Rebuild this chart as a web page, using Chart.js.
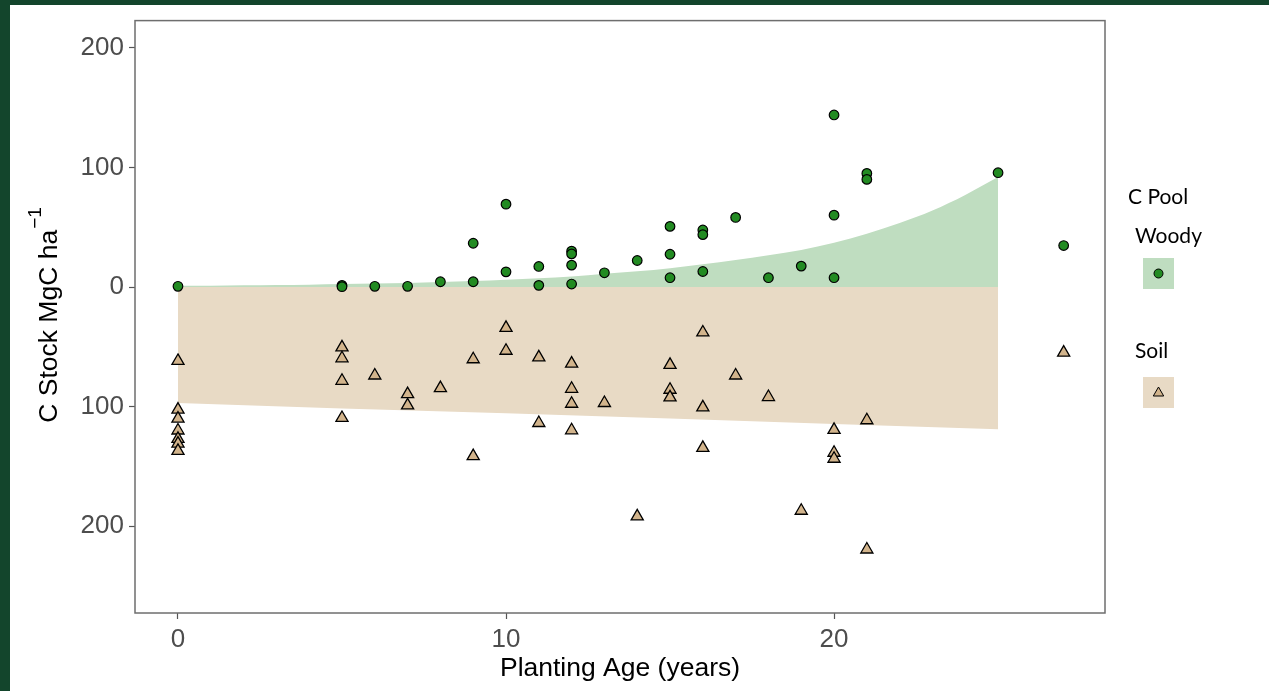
<!DOCTYPE html>
<html>
<head>
<meta charset="utf-8">
<script src="https://cdn.jsdelivr.net/npm/chart.js@4.4.1/dist/chart.umd.min.js"></script>
<style>
  html, body { margin: 0; padding: 0; background: #fff; }
  canvas { display: block; }
</style>
</head>
<body>
<canvas id="stockChart" width="1269" height="691"></canvas>
<script>
// woody carbon observations (MgC/ha) by planting age
const woodyAge = [0, 5, 5, 6, 7, 8, 9, 9, 10, 10, 11, 11, 12, 12, 12, 12, 13, 14, 15, 15, 15, 16, 16, 16, 17, 18, 19, 20, 20, 20, 21, 21, 25, 27];
const woodyStock = [0.6, 1.4, 0.3, 0.6, 0.6, 4.4, 4.4, 36.6, 69.3, 12.7, 17.2, 1.4, 30, 27.7, 18.3, 2.5, 11.9, 22.2, 50.7, 27.4, 7.8, 47.7, 43.8, 13, 58.2, 7.8, 17.5, 143.9, 60.1, 7.8, 95, 90, 95.6, 34.7];

// soil carbon observations, plotted downwards (negative)
const soilAge = [0, 0, 0, 0, 0, 0, 0, 5, 5, 5, 5, 6, 7, 7, 8, 9, 9, 10, 10, 11, 11, 12, 12, 12, 12, 13, 14, 15, 15, 15, 16, 16, 16, 17, 18, 19, 20, 20, 20, 21, 21, 27];
const soilStock = [-61.8, -102.5, -110, -120, -127, -131, -137, -50.5, -59.6, -78.4, -109.5, -74, -89.6, -99, -84.5, -60.4, -141.4, -34.1, -53.3, -58.8, -113.7, -64, -85.1, -97.6, -119.8, -97, -191.8, -65.1, -85.9, -92.3, -38, -100.6, -134.5, -74, -92, -187.1, -119.5, -138.6, -143.6, -111.4, -219.5, -54.9];

// fitted trends shown as shaded areas
const woodyFitAge = [0, 1, 2, 3, 4, 5, 6, 7, 8, 9, 10, 11, 12, 13, 14, 15, 16, 17, 18, 19, 20, 21, 22, 23, 24, 25];
const woodyFitStock = [1.0, 1.1, 1.4, 1.7, 2.0, 2.5, 2.9, 3.4, 4.1, 5.0, 6.0, 7.3, 8.8, 11.2, 13.2, 15.8, 19.0, 22.5, 26.5, 31, 37, 44.5, 53.5, 64, 77, 92];
const soilFitAge = [0, 5, 10, 15, 20, 25];
const soilFitStock = [-97, -101.5, -105.5, -110, -114.5, -119];

const xTicks = [0, 10, 20];
const yTicks = [200, 100, 0, -100, -200];

const toPoints = (xs, ys) => xs.map((x, i) => ({ x: x, y: ys[i] }));

const greenArea = 'rgb(191,221,192)';
const tanArea = 'rgb(232,218,197)';
const woodyFill = '#228B22';
const soilFill = '#d2b48c';
const axisFont = "'Liberation Sans', Arial, sans-serif";
const legendFont = "Lato, 'Open Sans', sans-serif";

const framePlugin = {
  id: 'frame',
  beforeDraw(chart) {
    const ctx = chart.ctx;
    ctx.save();
    ctx.fillStyle = '#13452c';
    ctx.fillRect(0, 0, chart.width, chart.height);
    ctx.fillStyle = '#ffffff';
    ctx.fillRect(10, 5, chart.width - 10, chart.height - 5);
    ctx.restore();
  },
  afterDraw(chart) {
    const ctx = chart.ctx;
    const a = chart.chartArea;
    ctx.save();
    // panel border
    ctx.strokeStyle = '#6e6e6e';
    ctx.lineWidth = 1.5;
    ctx.strokeRect(a.left, a.top, a.right - a.left, a.bottom - a.top);

    // y axis title with superscript
    ctx.translate(57, 315);
    ctx.rotate(-Math.PI / 2);
    ctx.fillStyle = '#000';
    ctx.textBaseline = 'alphabetic';
    ctx.font = '26.5px ' + axisFont;
    const main = 'C Stock MgC ha';
    const mainW = ctx.measureText(main).width;
    ctx.font = '19px ' + axisFont;
    const sup = '−1';
    const supW = ctx.measureText(sup).width;
    const start = -(mainW + supW + 1) / 2;
    ctx.font = '26.5px ' + axisFont;
    ctx.fillText(main, start, 0);
    ctx.font = '19px ' + axisFont;
    ctx.fillText(sup, start + mainW + 1, -16);
    ctx.restore();

    // legend
    ctx.save();
    ctx.fillStyle = '#000';
    ctx.textBaseline = 'alphabetic';
    ctx.font = '21px ' + legendFont;
    ctx.fillText('C Pool', 1128, 204);
    ctx.fillText('Woody', 1135, 243);
    ctx.fillText('Soil', 1135, 358);

    ctx.fillStyle = greenArea;
    ctx.fillRect(1143, 258, 31, 31);
    ctx.fillStyle = tanArea;
    ctx.fillRect(1143, 377, 31, 31);

    ctx.lineWidth = 1;
    ctx.strokeStyle = '#000';
    ctx.fillStyle = woodyFill;
    Chart.helpers.drawPoint(ctx, { pointStyle: 'circle', radius: 4.5, borderWidth: 1 }, 1158.5, 273.5);
    ctx.fillStyle = soilFill;
    Chart.helpers.drawPoint(ctx, { pointStyle: 'triangle', radius: 6, borderWidth: 1 }, 1158.5, 393);
    ctx.restore();
  }
};

new Chart(document.getElementById('stockChart'), {
  type: 'scatter',
  data: {
    datasets: [
      {
        type: 'line',
        label: 'Woody fit',
        data: toPoints(woodyFitAge, woodyFitStock),
        fill: 'origin',
        backgroundColor: greenArea,
        borderWidth: 0,
        pointRadius: 0,
        cubicInterpolationMode: 'monotone',
        order: 2
      },
      {
        type: 'line',
        label: 'Soil fit',
        data: toPoints(soilFitAge, soilFitStock),
        fill: 'origin',
        backgroundColor: tanArea,
        borderWidth: 0,
        pointRadius: 0,
        order: 2
      },
      {
        label: 'Soil',
        data: toPoints(soilAge, soilStock),
        pointStyle: 'triangle',
        pointRadius: 7,
        backgroundColor: soilFill,
        borderColor: '#000',
        borderWidth: 1.3,
        order: 1
      },
      {
        label: 'Woody',
        data: toPoints(woodyAge, woodyStock),
        pointStyle: 'circle',
        pointRadius: 4.8,
        backgroundColor: woodyFill,
        borderColor: '#000',
        borderWidth: 1.2,
        order: 0
      }
    ]
  },
  options: {
    responsive: false,
    animation: false,
    devicePixelRatio: 1,
    layout: { padding: { left: 0, top: 17, right: 164, bottom: 0 } },
    plugins: {
      legend: { display: false },
      tooltip: { enabled: false }
    },
    scales: {
      x: {
        type: 'linear',
        min: -1.31,
        max: 28.26,
        afterBuildTicks: (s) => { s.ticks = xTicks.map((v) => ({ value: v })); },
        afterFit: (s) => { s.height = 78; },
        border: { display: false },
        grid: { drawOnChartArea: false, tickLength: 6, tickColor: '#555', tickWidth: 1.2 },
        ticks: {
          autoSkip: false,
          maxRotation: 0,
          padding: 5,
          color: '#4d4d4d',
          font: { family: axisFont, size: 26 },
          callback: (v) => String(v)
        },
        title: {
          display: true,
          text: 'Planting Age (years)',
          color: '#000',
          font: { family: axisFont, size: 26.5 },
          padding: { top: 0, bottom: 6 }
        }
      },
      y: {
        type: 'linear',
        min: -272.6,
        max: 222.8,
        afterBuildTicks: (s) => { s.ticks = yTicks.map((v) => ({ value: v })); },
        afterFit: (s) => { s.width = 135; },
        border: { display: false },
        grid: { drawOnChartArea: false, tickLength: 6, tickColor: '#555', tickWidth: 1.2 },
        ticks: {
          autoSkip: false,
          padding: 5,
          color: '#4d4d4d',
          font: { family: axisFont, size: 26 },
          callback: (v) => String(Math.abs(v))
        }
      }
    }
  },
  plugins: [framePlugin]
});
</script>
</body>
</html>
